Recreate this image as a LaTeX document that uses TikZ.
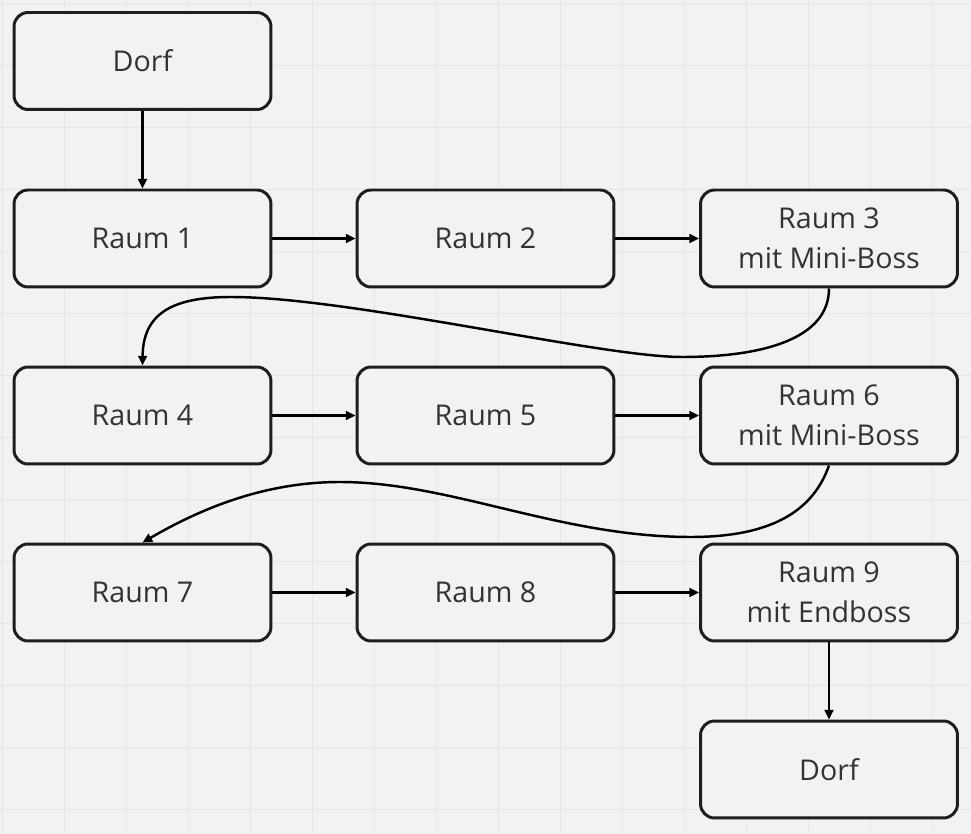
\documentclass[tikz,border=0pt]{standalone}
\usepackage{fontspec}
\setmainfont{Open Sans}
\usetikzlibrary{arrows.meta, positioning}
\definecolor{PaperGray}{RGB}{242,242,242}
\definecolor{GridGray}{RGB}{229,229,229}
\definecolor{InkBlack}{RGB}{30,30,30}
\definecolor{TextGray}{RGB}{51,51,51}

\begin{document}
\begin{tikzpicture}[
  x=0.02cm, y=-0.02cm,
  room/.style={
    draw=InkBlack,
    fill=PaperGray,
    rounded corners=8pt,
    line width=1.7pt,
    minimum width=5.14cm,
    minimum height=1.94cm,
    inner sep=0pt,
    align=center,
    text=TextGray,
    font=\fontsize{16.3}{22.7}\selectfont
  },
  link/.style={-{Triangle[length=5.5pt,width=5pt]}, line width=1.4pt, draw=black}
]
\fill[PaperGray] (0,0) rectangle (971,834);
\useasboundingbox (0,0) rectangle (971,834);
\foreach \gx in {2,64,...,960} \draw[GridGray, line width=0.5pt] (\gx,0) -- (\gx,834);
\foreach \gy in {3,65,...,830} \draw[GridGray, line width=0.5pt] (0,\gy) -- (971,\gy);

% first row
\node[room] (dorfstart) at (142.5,61) {Dorf};
\node[room] (r1) at (142.5,238.5) {Raum 1};
\node[room] (r2) at (485.5,238.5) {Raum 2};
\node[room] (r3) at (829,238.5) {Raum 3\\mit Mini-Boss};
% second row
\node[room] (r4) at (142.5,415.5) {Raum 4};
\node[room] (r5) at (485.5,415.5) {Raum 5};
\node[room] (r6) at (829,415.5) {Raum 6\\mit Mini-Boss};
% third row
\node[room] (r7) at (142.5,592.5) {Raum 7};
\node[room] (r8) at (485.5,592.5) {Raum 8};
\node[room] (r9) at (829,592.5) {Raum 9\\mit Endboss};
\node[room] (dorfend) at (829,769.5) {Dorf};

\draw[link] (dorfstart) -- (r1);
\draw[link] (r1) -- (r2);
\draw[link] (r2) -- (r3);
\draw[link] (r3.south) .. controls (829,340) and (760,357) .. (682,357)
  .. controls (600,357) and (350,297) .. (231,297)
  .. controls (170,297) and (143,315) .. (r4.north);
\draw[link] (r4) -- (r5);
\draw[link] (r5) -- (r6);
\draw[link] (r6.south) .. controls (815,505) and (780,537) .. (691,537)
  .. controls (560,537) and (450,482) .. (340,482)
  .. controls (260,482) and (195,512) .. (r7.north);
\draw[link] (r7) -- (r8);
\draw[link] (r8) -- (r9);
\draw[link] (r9) -- (dorfend);
\end{tikzpicture}
\end{document}
